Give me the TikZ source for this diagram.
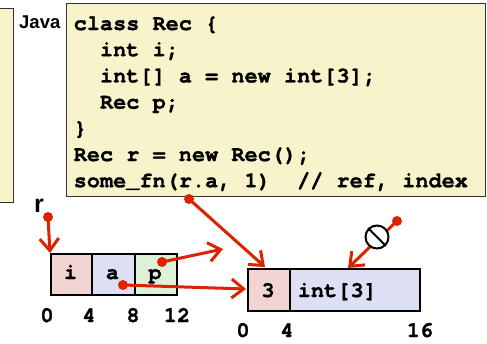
\documentclass[tikz,border=0pt]{standalone}
\usepackage{fontspec}
\setmainfont{Liberation Sans}
\newfontfamily\codefont{TeX Gyre Cursor}[BoldFeatures={FakeBold=1.2}]
\usetikzlibrary{arrows.meta}

\definecolor{ptrred}{RGB}{221,34,0}
\definecolor{noteyellow}{RGB}{247,243,202}
\definecolor{intpink}{RGB}{242,212,212}
\definecolor{reflav}{RGB}{222,222,244}
\definecolor{recgreen}{RGB}{221,240,216}

\tikzset{
  panel/.style={draw=black!80, line width=1.4pt, fill=noteyellow, inner sep=0pt, anchor=north west},
  codeline/.style={anchor=base west, inner sep=0pt, font=\codefont\bfseries\fontsize{21.9}{26}\selectfont},
  memtext/.style={anchor=base, inner sep=0pt, font=\codefont\bfseries\fontsize{22}{26}\selectfont},
  cell/.style={draw=black, line width=2.4pt, inner sep=0pt, anchor=north west},
  ptr/.style={draw=ptrred, line width=3pt, -{Straight Barb[length=12pt,width=19pt]}},
  ptrdot/.style={circle, fill=ptrred, inner sep=0pt, minimum size=10pt},
  tag/.style={anchor=base west, inner sep=0pt, font=\bfseries}
}

\begin{document}
\begin{tikzpicture}[x=1pt,y=-1pt]
\useasboundingbox (0,0) rectangle (487,343);

% note panels
\node[panel, minimum width=16pt, minimum height=194pt] (sidepanel) at (-3,8) {};
\node[panel, minimum width=419pt, minimum height=193pt] (codepanel) at (66,3) {};
\node[tag, font=\bfseries\fontsize{18.5}{22}\selectfont] (lang) at (19,28) {Java};

% Java source
\node[codeline] (c1) at (73.5,30)    {class Rec \{};
\node[codeline] (c2) at (99.8,56.2)  {int i;};
\node[codeline] (c3) at (99.8,82.4)  {int[] a = new int[3];};
\node[codeline] (c4) at (99.8,108.6) {Rec p;};
\node[codeline] (c5) at (73.5,134.8) {\}};
\node[codeline] (c6) at (73.5,161)   {Rec r = new Rec();};
\node[codeline] (c7) at (73.5,187.2) {some\_fn(r.a, 1)\ \ // ref, index};

% record object
\node[cell, fill=intpink,  minimum width=41pt, minimum height=41pt] (fi) at (50,253)  {};
\node[cell, fill=reflav,   minimum width=43pt, minimum height=41pt] (fa) at (91,253)  {};
\node[cell, fill=recgreen, minimum width=42pt, minimum height=41pt] (fp) at (134,253) {};
\node[memtext] (li) at (70.5,279) {i};
\node[memtext] (la) at (112.5,279) {a};
\node[memtext] (lp) at (155,279) {p};
\node[memtext] (o0) at (47,322)  {0};
\node[memtext] (o4) at (89,322)  {4};
\node[memtext] (o8) at (133,322) {8};
\node[memtext] (o12) at (177,322) {12};

% array object
\node[cell, fill=intpink, minimum width=42pt,  minimum height=42pt] (alen) at (247,268) {};
\node[cell, fill=reflav,  minimum width=130pt, minimum height=42pt] (abody) at (289,268) {};
\node[memtext] (l3) at (268,297) {3};
\node[memtext, anchor=base west] (lint) at (297.5,297) {int[3]};
\node[memtext] (p0) at (243,337)  {0};
\node[memtext] (p4) at (287,337)  {4};
\node[memtext] (p16) at (420,337) {16};

% reference r and pointer sources
\node[tag, font=\bfseries\fontsize{25}{30}\selectfont] (rname) at (34,212) {r};
\node[ptrdot] (rdot) at (48,217) {};
\node[ptrdot] (pdot) at (162,262) {};
\node[ptrdot] (adot) at (123,285) {};
\node[ptrdot] (fdot) at (189,199) {};
\node[ptrdot] (ndot) at (397,221) {};

\coordinate (pend) at (223,249);
\coordinate (aend) at (246,289);
\coordinate (fend) at (265,267);
\coordinate (nend) at (348,268);

\draw[ptr] (rdot.center) -- (fi.north west);
\draw[ptr] (pdot.center) -- (pend);
\draw[ptr] (adot.center) -- (aend);
\draw[ptr] (fdot.center) -- (fend);
\draw[ptr] (ndot.center) -- (nend);

% null marker
\node[circle, draw=black, fill=white, line width=2pt, minimum size=23pt, inner sep=0pt] (nullmark) at (377,237) {};
\draw[line width=2pt] (nullmark.135) -- (nullmark.-45);
\end{tikzpicture}
\end{document}
